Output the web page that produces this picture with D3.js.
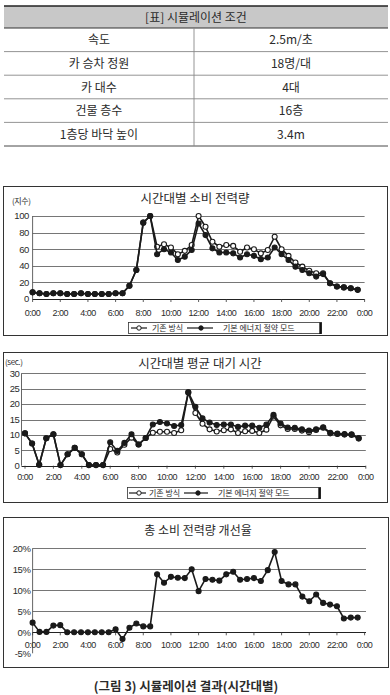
<!DOCTYPE html>
<html><head><meta charset="utf-8">
<script src="https://cdn.jsdelivr.net/npm/d3@7"></script>
<style>
body{margin:0;background:#fff;}
svg{display:block;}
text{font-family:"Liberation Sans","Noto Sans CJK KR",sans-serif;fill:#2b2b2b;}
.kr{font-family:"Noto Sans CJK KR","Noto Sans",sans-serif;}
</style></head><body>
<svg id="c" width="390" height="695"></svg>
<script>
// ---------- DATA ----------
const tableTitle = "[표] 시뮬레이션 조건";
const tableLabels = ["속도","카 승차 정원","카 대수","건물 층수","1층당 바닥 높이"];
const tableValues = ["2.5m/초","18명/대","4대","16층","3.4m"];

const timeSlots = ["0:00","0:30","1:00","1:30","2:00","2:30","3:00","3:30","4:00","4:30","5:00","5:30",
  "6:00","6:30","7:00","7:30","8:00","8:30","9:00","9:30","10:00","10:30","11:00","11:30",
  "12:00","12:30","13:00","13:30","14:00","14:30","15:00","15:30","16:00","16:30","17:00","17:30",
  "18:00","18:30","19:00","19:30","20:00","20:30","21:00","21:30","22:00","22:30","23:00","23:30"];
const tickLabels = ["0:00","2:00","4:00","6:00","8:00","10:00","12:00","14:00","16:00","18:00","20:00","22:00","0:00"];
const tickSlots = [0,4,8,12,16,20,24,28,32,36,40,44,48];

const seriesNames = ["기존 방식","기본 에너지 절약 모드"];

const powerExisting = [8,7,6,7,7,6,6,7,6,6,6,6,7,7,16,35,92,100,
  63,66,62,54,58,65,100,87,69,63,65,64,57,62,60,55,59,75,60,52,44,39,34,31,31,19,15,14,13,11];
const powerSaving = [8,7,6,7,7,6,6,7,6,6,6,6,7,7,16,35,92,100,
  54,60,56,47,51,59,91,77,61,56,56,55,50,54,52,48,50,62,54,47,39,35,31,27,30,19,15,14,13,11];
const powerTicks = [0,20,40,60,80,100];

const waitExisting = [10.5,7.2,0.3,8.9,10.2,0.2,3.7,5.8,3.7,0.2,0.2,0.2,
  5.4,4.3,6.8,9.1,6.9,9.0,10.7,11.0,11.0,10.6,11.5,23.8,17.1,13.6,11.8,11.1,11.5,11.8,10.6,11.2,11.3,10.6,11.7,16.0,13.1,11.9,11.9,11.4,10.9,11.6,12.3,10.5,10.3,10.1,10.0,8.8];
const waitSaving = [10.5,7.2,0.3,8.9,10.2,0.2,3.7,5.8,3.7,0.2,0.2,0.2,
  7.6,4.8,7.4,10.2,6.9,9.0,13.4,14.2,13.7,12.9,13.2,23.8,19.1,15.4,14.0,13.2,13.4,13.4,12.6,13.0,13.0,12.3,13.4,16.5,13.7,12.4,12.3,11.8,11.4,11.8,12.5,10.7,10.4,10.3,10.2,9.0];
const waitTicks = [0,5,10,15,20,25,30];

const improvement = [2.3,0.1,0.1,1.6,1.7,0,0,0,0,0,0,0,
  0.7,-1.6,1.1,2.1,1.4,1.4,13.8,11.8,13.2,13.0,12.9,15.0,9.8,12.7,12.5,12.3,13.8,14.4,12.5,12.7,12.9,12.2,14.8,19.1,12.2,11.4,11.4,8.5,7.4,9.0,7.0,6.6,6.2,3.3,3.5,3.5];
const improvementTicks = [-5,0,5,10,15,20];

const chartTitles = ["시간대별 소비 전력량","시간대별 평균 대기 시간","총 소비 전력량 개선율"];
const unitLabels = ["(지수)","(sec.)"];
const caption = "(그림 3) 시뮬레이션 결과(시간대별)";

// ---------- DRAW ----------
const svg = d3.select("#c");
const INK = "#1a1a1a";

// Table
svg.append("rect").attr("x",4).attr("y",6).attr("width",384).attr("height",22).attr("fill","#c8c8c8");
svg.append("line").attr("x1",4).attr("x2",388).attr("y1",6).attr("y2",6).attr("stroke","#222").attr("stroke-width",1.4);
svg.append("line").attr("x1",4).attr("x2",388).attr("y1",28).attr("y2",28).attr("stroke","#333").attr("stroke-width",1);
svg.append("text").attr("class","kr").attr("x",196).attr("y",21.5).attr("text-anchor","middle")
  .attr("font-size",12).text(tableTitle);
const rowScale = d3.scaleBand().domain(tableLabels).range([28,146]);
const tg = svg.append("g");
tableLabels.forEach((lab,i)=>{
  const y0 = rowScale(lab), h = rowScale.bandwidth();
  tg.append("line").attr("x1",4).attr("x2",388).attr("y1",y0+h).attr("y2",y0+h)
    .attr("stroke", i===tableLabels.length-1 ? "#333" : "#888").attr("stroke-width",0.9);
  tg.append("text").attr("class","kr").attr("x",99).attr("y",y0+h/2+4.5).attr("text-anchor","middle")
    .attr("font-size",12).text(lab);
  tg.append("text").attr("class","kr").attr("x",291).attr("y",y0+h/2+4.5).attr("text-anchor","middle")
    .attr("font-size",12).text(tableValues[i]);
});
svg.append("line").attr("x1",194).attr("x2",194).attr("y1",28).attr("y2",146).attr("stroke","#888").attr("stroke-width",0.9);

function lineChart(cfg){
  const g = svg.append("g");
  g.append("rect").attr("x",cfg.frame[0]+0.5).attr("y",cfg.frame[1]+0.5)
    .attr("width",cfg.frame[2]).attr("height",cfg.frame[3])
    .attr("fill","none").attr("stroke","#333").attr("stroke-width",1);
  const x = d3.scaleLinear().domain([0,48]).range(cfg.xRange);
  const y = d3.scaleLinear().domain(cfg.yDomain).range(cfg.yRange);
  const gx0 = cfg.gridX[0], gx1 = cfg.gridX[1];
  g.selectAll(".grid").data(cfg.yTicks.filter(v=>v!==0 && v!==cfg.yDomain[0])).join("line")
    .attr("x1",gx0).attr("x2",gx1).attr("y1",d=>Math.round(y(d))+0.5).attr("y2",d=>Math.round(y(d))+0.5)
    .attr("stroke","#666").attr("stroke-width",0.9);
  g.append("line").attr("x1",gx0).attr("x2",gx0).attr("y1",y(cfg.yDomain[1])).attr("y2",y(cfg.yDomain[0]))
    .attr("stroke","#555").attr("stroke-width",0.9);
  g.append("line").attr("x1",gx0).attr("x2",gx1).attr("y1",Math.round(y(0))+0.5).attr("y2",Math.round(y(0))+0.5)
    .attr("stroke","#222").attr("stroke-width",1);
  g.selectAll(".xt").data(tickSlots).join("line")
    .attr("x1",d=>x(d)).attr("x2",d=>x(d)).attr("y1",y(0)).attr("y2",y(0)+3)
    .attr("stroke","#333").attr("stroke-width",0.8);
  g.selectAll(".yl").data(cfg.yTicks).join("text")
    .attr("x",cfg.yLabelX).attr("y",d=>y(d)+3.3).attr("text-anchor","end")
    .attr("font-size",9.5).attr("letter-spacing",-0.4).text(d=>d+(cfg.pct?"%":""));
  g.selectAll(".xl").data(tickSlots).join("text")
    .attr("x",d=>x(d)).attr("y",cfg.xLabelY).attr("text-anchor","middle")
    .attr("font-size",9).attr("letter-spacing",-0.5).text((d,i)=>tickLabels[i]);
  g.append("text").attr("class","kr").attr("x",cfg.titleX).attr("y",cfg.titleY).attr("text-anchor","middle")
    .attr("font-size",cfg.titleSize).attr("fill","#333").text(cfg.title);
  if(cfg.unit){
    g.append("text").attr("class","kr").attr("x",cfg.unitX).attr("y",cfg.unitY)
      .attr("font-size",8).attr("letter-spacing",-0.4).text(cfg.unit);
  }
  const line = d3.line().x((d,i)=>x(i)).y(d=>y(d));
  cfg.series.forEach(s=>{
    g.append("path").datum(s.values).attr("d",line).attr("fill","none")
      .attr("stroke",INK).attr("stroke-width",1.6).attr("stroke-linejoin","round");
    g.selectAll(null).data(s.values).join("circle")
      .attr("cx",(d,i)=>x(i)).attr("cy",d=>y(d)).attr("r",2.5)
      .attr("fill",s.fill).attr("stroke",INK).attr("stroke-width",1.1);
  });
  if(cfg.legend){
    const L = cfg.legend;
    g.append("rect").attr("x",L.x+0.5).attr("y",L.y+0.5).attr("width",L.w).attr("height",L.h)
      .attr("fill","#fff").attr("stroke","#333").attr("stroke-width",0.8);
    g.append("line").attr("x1",L.x+L.w-0.5).attr("x2",L.x+L.w-0.5).attr("y1",L.y+0.5).attr("y2",L.y+L.h+1)
      .attr("stroke","#111").attr("stroke-width",2.4);
    L.items.forEach((it,k)=>{
      const cy = L.y+L.h/2+0.5;
      g.append("line").attr("x1",it.l0).attr("x2",it.l1).attr("y1",cy).attr("y2",cy)
        .attr("stroke",INK).attr("stroke-width",1.2);
      g.append("circle").attr("cx",it.m).attr("cy",cy).attr("r",2.2)
        .attr("fill",cfg.series[k].fill).attr("stroke",INK).attr("stroke-width",1);
      g.append("text").attr("class","kr").attr("x",it.t).attr("y",cy+3).attr("font-size",8)
        .text(seriesNames[k]);
    });
  }
}

lineChart({
  frame:[3,186,384,149],
  xRange:[32.6,364.6], gridX:[32.6,364.6],
  yDomain:[0,100], yRange:[299,216], yTicks:powerTicks, yLabelX:29,
  xLabelY:315.5, title:chartTitles[0], titleX:195, titleY:202.5, titleSize:12.5,
  unit:unitLabels[0], unitX:12, unitY:204,
  series:[{values:powerExisting,fill:"#fff"},{values:powerSaving,fill:INK}],
  legend:{x:128,y:322,w:193,h:11,items:[{l0:131,l1:147,m:139,t:152},{l0:187,l1:213,m:201,t:223}]}
});

lineChart({
  frame:[3,352,384,150],
  xRange:[25,365.8], gridX:[21.5,365.8],
  yDomain:[0,30], yRange:[465.7,373.3], yTicks:waitTicks, yLabelX:19.5,
  xLabelY:479.5, title:chartTitles[1], titleX:200, titleY:368, titleSize:12.5,
  unit:unitLabels[1], unitX:5, unitY:365,
  series:[{values:waitExisting,fill:"#fff"},{values:waitSaving,fill:INK}],
  legend:{x:127,y:487,w:193,h:11,items:[{l0:129,l1:146,m:139,t:149},{l0:184,l1:208,m:198,t:218}]}
});

lineChart({
  frame:[3,517,385,150],
  xRange:[32.6,364.6], gridX:[32.6,366],
  yDomain:[-5,20], yRange:[653.3,548.3], yTicks:improvementTicks, yLabelX:30.5, pct:true,
  xLabelY:647.5, title:chartTitles[2], titleX:198, titleY:535, titleSize:12,
  series:[{values:improvement,fill:INK}]
});

svg.append("text").attr("class","kr").attr("x",186).attr("y",691).attr("text-anchor","middle")
  .attr("font-size",12.5).attr("font-weight",700).attr("fill","#222").text(caption);
</script>
</body></html>
